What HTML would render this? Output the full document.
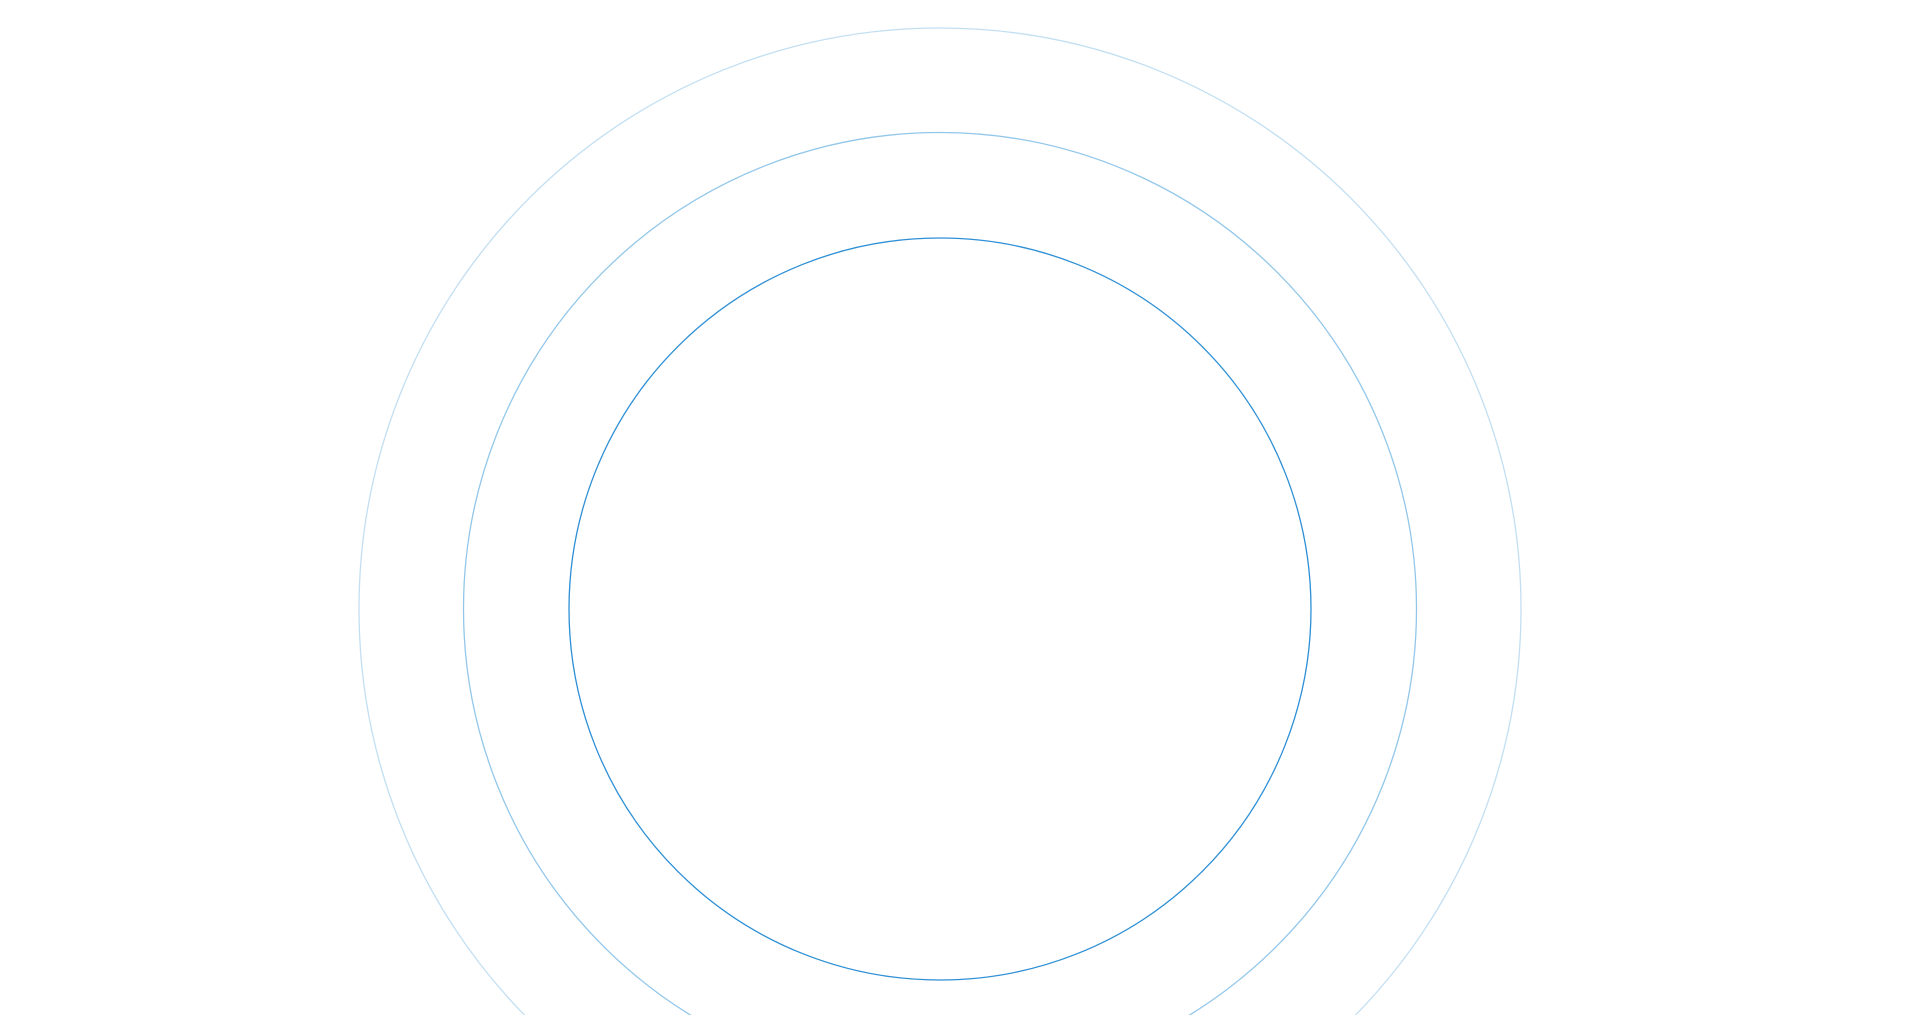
<!DOCTYPE html>
<html><head><meta charset="utf-8"><style>
html,body{margin:0;padding:0;background:#fff;width:1920px;height:1015px;overflow:hidden}
svg{display:block}
</style></head><body>
<svg width="1920" height="1015" viewBox="0 0 1920 1015" xmlns="http://www.w3.org/2000/svg">
<circle cx="940" cy="609" r="581" fill="none" stroke="#c2dff2" stroke-width="1.3"/>
<circle cx="940" cy="609" r="476.5" fill="none" stroke="#92c7ea" stroke-width="1.3"/>
<circle cx="940" cy="609" r="371" fill="none" stroke="#2d8fd5" stroke-width="1.3"/>
</svg>
</body></html>
